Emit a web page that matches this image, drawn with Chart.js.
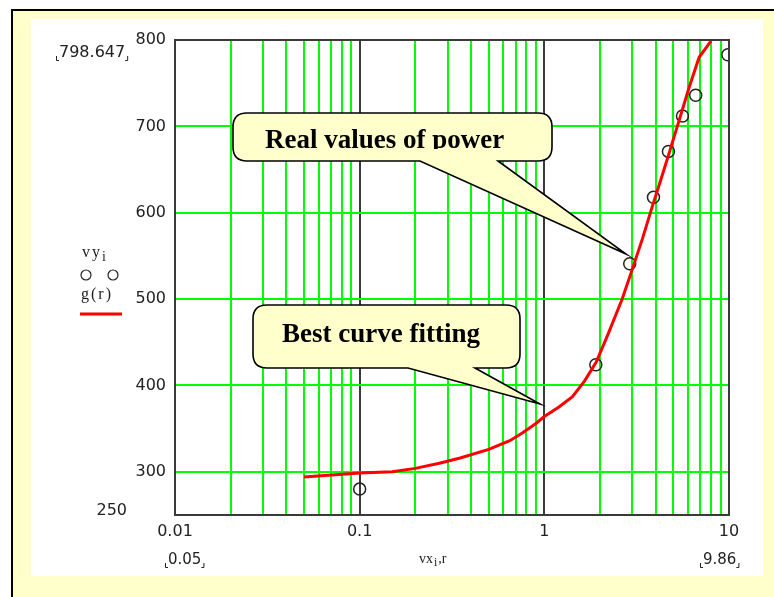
<!DOCTYPE html>
<html>
<head>
<meta charset="utf-8">
<script src="https://cdn.jsdelivr.net/npm/chart.js@4.4.1/dist/chart.umd.min.js"></script>
<style>
  html, body { margin: 0; padding: 0; background: #fff; overflow: hidden; }
  #frame { position: absolute; left: 11px; top: 9px; width: 780px; height: 600px; border: 2px solid #000; background: #ffffcc; }
  #panel { position: absolute; left: 31px; top: 19px; width: 732px; height: 557px; background: #fff; }
  #chart { position: absolute; left: 0; top: 0; }
</style>
</head>
<body>
<div id="frame"></div>
<div id="panel"></div>
<canvas id="chart" width="774" height="597"></canvas>
<script>
// ─── DATA ───────────────────────────────────────────
const xTickValues = [0.01, 0.02, 0.03, 0.04, 0.05, 0.06, 0.07, 0.08, 0.09,
                     0.1, 0.2, 0.3, 0.4, 0.5, 0.6, 0.7, 0.8, 0.9,
                     1, 2, 3, 4, 5, 6, 7, 8, 9, 10];
const xLabeled = [0.01, 0.1, 1, 10];
const xDecades = [0.1, 1];
const yTickValues = [300, 400, 500, 600, 700, 800];
const yGridValues = [300, 400, 500, 600, 700];

// measured power (vx_i, vy_i)
const realX = [0.1, 1.9, 2.9, 3.9, 4.7, 5.6, 6.6, 9.86];
const realY = [280, 424, 541, 618, 671, 712, 736, 783];

// fitted curve g(r)
const fitX = [0.05, 0.1, 0.15, 0.2, 0.27, 0.35, 0.5, 0.65, 0.76, 0.9, 1.0, 1.2, 1.42, 1.65,
              1.91, 2.2, 2.64, 3.0, 3.4, 3.84, 4.3, 4.74, 5.37, 6.08, 6.89, 8.0];
const fitY = [294, 298.5, 300, 304, 310, 316, 326, 336, 345, 356, 364, 375, 387, 405,
              427, 458, 500, 535, 570, 607, 640, 669, 707, 745, 780, 799];

const GREEN = '#00ff00';
const DARK = '#3a3a3a';
const TICK_FONT = { family: "'DejaVu Sans', sans-serif", size: 16 };
const SERIF = "'Liberation Serif', 'Times New Roman', serif";

// ─── HELPERS ────────────────────────────────────────
function cornerMarks(ctx, x1, x2, y) {
  ctx.save();
  ctx.strokeStyle = '#222';
  ctx.lineWidth = 1;
  ctx.beginPath();
  ctx.moveTo(x1 + 0.5, y - 4); ctx.lineTo(x1 + 0.5, y + 0.5); ctx.lineTo(x1 + 3, y + 0.5);
  ctx.moveTo(x2 - 0.5, y - 4); ctx.lineTo(x2 - 0.5, y + 0.5); ctx.lineTo(x2 - 3, y + 0.5);
  ctx.stroke();
  ctx.restore();
}

function bracketLabel(ctx, text, x, y, size) {
  ctx.save();
  ctx.font = size + "px 'DejaVu Sans', sans-serif";
  ctx.fillStyle = '#222';
  ctx.textBaseline = 'middle';
  ctx.textAlign = 'left';
  ctx.fillText(text, x + 3, y);
  const w = ctx.measureText(text).width;
  cornerMarks(ctx, x, x + w + 6, y + 7);
  ctx.restore();
}

function callout(ctx, box, tail, text, tx, ty, clipY) {
  const { l, t, r, b } = box;
  const rad = 14;
  ctx.save();
  ctx.beginPath();
  ctx.moveTo(l + rad, t);
  ctx.lineTo(r - rad, t);
  ctx.quadraticCurveTo(r, t, r, t + rad);
  ctx.lineTo(r, b - rad);
  ctx.quadraticCurveTo(r, b, r - rad, b);
  ctx.lineTo(tail.x2, b);
  ctx.lineTo(tail.tipX, tail.tipY);
  ctx.lineTo(tail.x1, b);
  ctx.lineTo(l + rad, b);
  ctx.quadraticCurveTo(l, b, l, b - rad);
  ctx.lineTo(l, t + rad);
  ctx.quadraticCurveTo(l, t, l + rad, t);
  ctx.closePath();
  ctx.fillStyle = '#ffffcc';
  ctx.fill();
  ctx.strokeStyle = '#000';
  ctx.lineWidth = 1.6;
  ctx.stroke();

  if (clipY) {
    ctx.beginPath();
    ctx.rect(l, t, r - l, clipY - t);
    ctx.clip();
  }
  ctx.font = "bold 27px " + SERIF;
  ctx.fillStyle = '#000';
  ctx.textBaseline = 'alphabetic';
  ctx.textAlign = 'left';
  ctx.fillText(text, tx, ty);
  ctx.restore();
}

// ─── DECORATION PLUGIN ──────────────────────────────
const decorations = {
  id: 'decorations',
  afterDatasetsDraw(chart) {
    const { ctx, chartArea: a } = chart;
    ctx.save();
    ctx.strokeStyle = DARK;
    ctx.lineWidth = 2;
    ctx.strokeRect(a.left, a.top, a.right - a.left, a.bottom - a.top);
    ctx.restore();
  },
  afterDraw(chart) {
    const ctx = chart.ctx;

    // axis limit markers
    bracketLabel(ctx, '798.647', 56, 53, 16);
    bracketLabel(ctx, '0.05', 165, 560, 15);
    bracketLabel(ctx, '9.86', 700, 560, 15);

    ctx.save();
    ctx.font = "16px 'DejaVu Sans', sans-serif";
    ctx.fillStyle = '#222';
    ctx.textBaseline = 'middle';
    ctx.textAlign = 'right';
    ctx.fillText('250', 127, 511);
    ctx.restore();

    // legend on the left
    ctx.save();
    ctx.fillStyle = '#222';
    ctx.textBaseline = 'alphabetic';
    ctx.textAlign = 'left';
    ctx.letterSpacing = '2px';
    ctx.font = "16px " + SERIF;
    ctx.fillText('vy', 82, 257);
    let w = ctx.measureText('vy').width;
    ctx.font = "14px " + SERIF;
    ctx.fillText('i', 82 + w, 261);
    ctx.font = "16px " + SERIF;
    ctx.fillText('g(r)', 81, 299);
    ctx.letterSpacing = '0px';
    ctx.strokeStyle = '#222';
    ctx.lineWidth = 1.2;
    [86, 113].forEach(cx => {
      ctx.beginPath();
      ctx.arc(cx, 275, 5, 0, Math.PI * 2);
      ctx.stroke();
    });
    ctx.strokeStyle = '#ff0000';
    ctx.lineWidth = 3;
    ctx.beginPath();
    ctx.moveTo(80, 314);
    ctx.lineTo(122, 314);
    ctx.stroke();

    // x axis variable name
    ctx.font = "14px " + SERIF;
    ctx.fillText('vx', 419, 563);
    w = ctx.measureText('vx').width;
    ctx.font = "12px " + SERIF;
    ctx.fillText('i', 419 + w + 1, 566);
    const w2 = ctx.measureText('i').width;
    ctx.font = "14px " + SERIF;
    ctx.fillText(',r', 419 + w + w2 + 2, 563);
    ctx.restore();

    // callouts
    callout(ctx, { l: 233, t: 113, r: 552, b: 161 },
      { x1: 420, x2: 498, tipX: 626, tipY: 254 },
      'Real values of power', 265, 148, 149);
    callout(ctx, { l: 253, t: 305, r: 520, b: 368 },
      { x1: 408, x2: 475, tipX: 540, tipY: 404 },
      'Best curve fitting', 282, 342);
  }
};

// ─── CHART ──────────────────────────────────────────
new Chart(document.getElementById('chart'), {
  type: 'scatter',
  data: {
    datasets: [
      {
        label: 'g(r)',
        data: fitX.map((x, i) => ({ x, y: fitY[i] })),
        showLine: true,
        borderColor: '#ff0000',
        borderWidth: 3,
        pointRadius: 0,
        tension: 0,
        clip: 0,
        order: 0,
      },
      {
        label: 'vy',
        data: realX.map((x, i) => ({ x, y: realY[i] })),
        showLine: false,
        pointStyle: 'circle',
        pointRadius: 6,
        pointBorderColor: '#222',
        pointBorderWidth: 1.5,
        pointBackgroundColor: 'rgba(0,0,0,0)',
        clip: 0,
        order: 1,
      }
    ]
  },
  options: {
    responsive: false,
    animation: false,
    layout: { padding: { left: 130, top: 40, right: 45, bottom: 52 } },
    plugins: { legend: { display: false }, tooltip: { enabled: false } },
    scales: {
      x: {
        type: 'logarithmic',
        min: 0.01,
        max: 10,
        afterBuildTicks: s => { s.ticks = xTickValues.map(v => ({ value: v })); },
        afterFit: s => { s.height = 30; },
        border: { display: false },
        grid: {
          drawTicks: false,
          lineWidth: 2,
          color: c => {
            const v = c.tick ? c.tick.value : null;
            if (v === 0.01 || v === 10) return 'rgba(0,0,0,0)';
            return xDecades.includes(v) ? DARK : GREEN;
          }
        },
        ticks: {
          autoSkip: false,
          maxRotation: 0,
          padding: 7,
          color: '#222',
          font: TICK_FONT,
          callback: v => xLabeled.includes(v) ? String(v) : ''
        }
      },
      y: {
        min: 250,
        max: 800,
        afterBuildTicks: s => { s.ticks = yTickValues.map(v => ({ value: v })); },
        afterFit: s => { s.width = 45; },
        border: { display: false },
        grid: {
          drawTicks: false,
          lineWidth: 2,
          color: c => (c.tick && yGridValues.includes(c.tick.value)) ? GREEN : 'rgba(0,0,0,0)'
        },
        ticks: {
          padding: 9,
          color: '#222',
          font: TICK_FONT
        }
      }
    }
  },
  plugins: [decorations]
});
</script>
</body>
</html>
